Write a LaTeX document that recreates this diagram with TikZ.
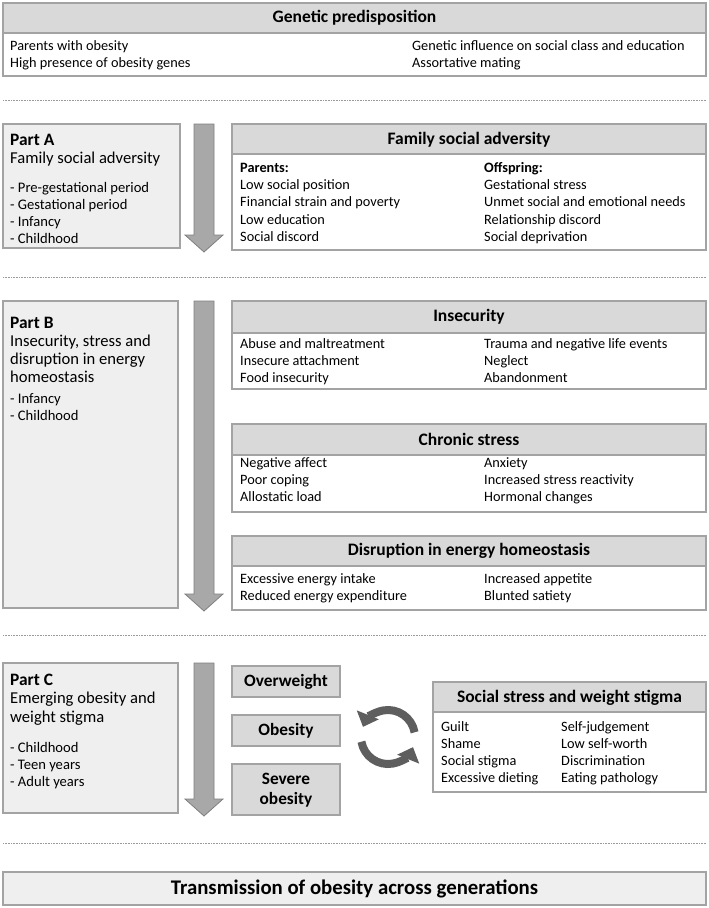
\documentclass[tikz,border=0pt]{standalone}
\usepackage{fontspec}
\setmainfont{Carlito}
\usetikzlibrary{arrows.meta}
\definecolor{hdr}{HTML}{D9D9D9}
\definecolor{partfill}{HTML}{EFEFEF}
\definecolor{bord}{HTML}{A3A3A3}
\definecolor{arrfill}{HTML}{A8A8A8}
\definecolor{arrline}{HTML}{7F7F7F}
\definecolor{circ}{HTML}{5E5E5E}
\definecolor{dotc}{HTML}{9A9A9A}
\begin{document}
\begin{tikzpicture}[x=1pt,y=-1pt,
  boxline/.style={draw=bord, line width=1.3pt},
  hdrfill/.style={fill=hdr},
  partfill/.style={fill=partfill},
  ttl/.style={inner sep=0pt, font=\fontsize{17.5}{20}\selectfont\bfseries},
  col/.style={anchor=base west, inner sep=0pt, align=left, font=\fontsize{14.3}{17.2}\selectfont},
  parttl/.style={anchor=base west, inner sep=0pt, font=\fontsize{17.4}{20}\selectfont\bfseries},
  pardesc/.style={anchor=base west, inner sep=0pt, align=left, font=\fontsize{16.6}{18}\selectfont},
  parlist/.style={anchor=base west, inner sep=0pt, align=left, font=\fontsize{14.6}{17}\selectfont},
  sep/.style={draw=dotc, line width=0.7pt, dash pattern=on 0.7pt off 0.9pt},
  blockarrow/.style={fill=arrfill, draw=arrline, line width=0.8pt},
  cyc/.style={draw=circ, line width=8pt, -{Triangle[length=13pt,width=23pt]}},
  wbox/.style={boxline, fill=hdr}
]
\useasboundingbox (0,0) rectangle (709,908);

% ---------- Genetic predisposition
\filldraw[boxline, fill=white] (3,3) rectangle (706,76);
\filldraw[boxline, hdrfill] (3,3) rectangle (706,33);
\node[ttl] (gen) at (354.5,18) {Genetic predisposition};
\node[col] (genL) at (10,67.7) {Parents with obesity\\High presence of obesity genes};
\node[col] (genR) at (412,67.7) {Genetic influence on social class and education\\Assortative mating};

\coordinate (s1a) at (3,100); \coordinate (s1b) at (706,100);
\draw[sep] (s1a) -- (s1b);

% ---------- Part A
\filldraw[boxline, partfill] (3,124) rectangle (180,248);
\node[parttl] (pa) at (10,145.5) {Part A};
\node[pardesc] (pad) at (10,163.5) {Family social adversity};
\node[parlist] (pal) at (10,243) {- Pre-gestational period\\- Gestational period\\- Infancy\\- Childhood};
\filldraw[blockarrow] (194,124) -- (214,124) -- (214,235) -- (223,235) -- (204,252) -- (185,235) -- (194,235) -- cycle;

\filldraw[boxline, fill=white] (232,124) rectangle (706,250);
\filldraw[boxline, hdrfill] (232,124) rectangle (706,154);
\node[ttl] (fsa) at (469,139.5) {Family social adversity};
\node[col] (fsaL) at (240,241.3) {\textbf{Parents:}\\Low social position\\Financial strain and poverty\\Low education\\Social discord};
\node[col] (fsaR) at (484,241.3) {\textbf{Offspring:}\\Gestational stress\\Unmet social and emotional needs\\Relationship discord\\Social deprivation};

\coordinate (s2a) at (3,277); \coordinate (s2b) at (706,277);
\draw[sep] (s2a) -- (s2b);

% ---------- Part B
\filldraw[boxline, partfill] (3,301) rectangle (178,608);
\node[parttl] (pb) at (10,328.5) {Part B};
\node[pardesc] (pbd) at (10,382.5) {Insecurity, stress and\\disruption in energy\\homeostasis};
\node[parlist] (pbl) at (10,420) {- Infancy\\- Childhood};
\filldraw[blockarrow] (194,301) -- (214,301) -- (214,594) -- (223,594) -- (204,611) -- (185,594) -- (194,594) -- cycle;

\filldraw[boxline, fill=white] (232,301) rectangle (706,389);
\filldraw[boxline, hdrfill] (232,301) rectangle (706,333);
\node[ttl] (ins) at (469,317) {Insecurity};
\node[col] (insL) at (240,382.9) {Abuse and maltreatment\\Insecure attachment\\Food insecurity};
\node[col] (insR) at (484,382.9) {Trauma and negative life events\\Neglect\\Abandonment};

\filldraw[boxline, fill=white] (232,424) rectangle (706,512);
\filldraw[boxline, hdrfill] (232,424) rectangle (706,455);
\node[ttl] (chr) at (469,439.5) {Chronic stress};
\node[col] (chrL) at (240,501.9) {Negative affect\\Poor coping\\Allostatic load};
\node[col] (chrR) at (484,501.9) {Anxiety\\Increased stress reactivity\\Hormonal changes};

\filldraw[boxline, fill=white] (232,536) rectangle (706,610);
\filldraw[boxline, hdrfill] (232,536) rectangle (706,566);
\node[ttl] (dis) at (469,551) {Disruption in energy homeostasis};
\node[col, font=\fontsize{14.3}{16.5}\selectfont] (disL) at (240,600) {Excessive energy intake\\Reduced energy expenditure};
\node[col, font=\fontsize{14.3}{16.5}\selectfont] (disR) at (484,600) {Increased appetite\\Blunted satiety};

\coordinate (s3a) at (3,635); \coordinate (s3b) at (706,635);
\draw[sep] (s3a) -- (s3b);

% ---------- Part C
\filldraw[boxline, partfill] (3,663) rectangle (178,813);
\node[parttl] (pc) at (10,685.5) {Part C};
\node[pardesc, font=\fontsize{16.6}{18.5}\selectfont] (pcd) at (10,722) {Emerging obesity and\\weight stigma};
\node[parlist] (pcl) at (10,786) {- Childhood\\- Teen years\\- Adult years};
\filldraw[blockarrow] (194,663) -- (214,663) -- (214,799) -- (223,799) -- (204,816) -- (185,799) -- (194,799) -- cycle;

\filldraw[wbox] (232,666) rectangle (340,697);
\node[ttl, font=\fontsize{17.3}{20}\selectfont\bfseries] (ow) at (286,681.5) {Overweight};
\filldraw[wbox] (232,715) rectangle (340,746);
\node[ttl, font=\fontsize{17.3}{20}\selectfont\bfseries] (ob) at (286,730.5) {Obesity};
\filldraw[wbox] (232,764) rectangle (340,815);
\node[ttl, font=\fontsize{17.3}{20.5}\selectfont\bfseries, align=center] (sob) at (286,790) {Severe\\obesity};

\filldraw[boxline, fill=white] (433,682) rectangle (706,792);
\filldraw[boxline, hdrfill] (433,682) rectangle (706,712);
\node[ttl] (ssw) at (569.5,697.5) {Social stress and weight stigma};
\node[col] (sswL) at (441,782.6) {Guilt\\Shame\\Social stigma\\Excessive dieting};
\node[col] (sswR) at (561,782.6) {Self-judgement\\Low self-worth\\Discrimination\\Eating pathology};

% cycle arrows
\coordinate (cc) at (388,737);
\draw[cyc] ([shift={(-10:27)}]cc) arc[start angle=-10, end angle=-158, radius=27];
\draw[cyc] ([shift={(170:27)}]cc) arc[start angle=170, end angle=22, radius=27];

\coordinate (s4a) at (3,843); \coordinate (s4b) at (706,843);
\draw[sep] (s4a) -- (s4b);

% ---------- Bottom
\filldraw[boxline, fill=partfill] (3,872) rectangle (706,905);
\node[ttl, font=\fontsize{20.8}{24}\selectfont\bfseries] (trans) at (354.5,888.5) {Transmission of obesity across generations};
\end{tikzpicture}
\end{document}
